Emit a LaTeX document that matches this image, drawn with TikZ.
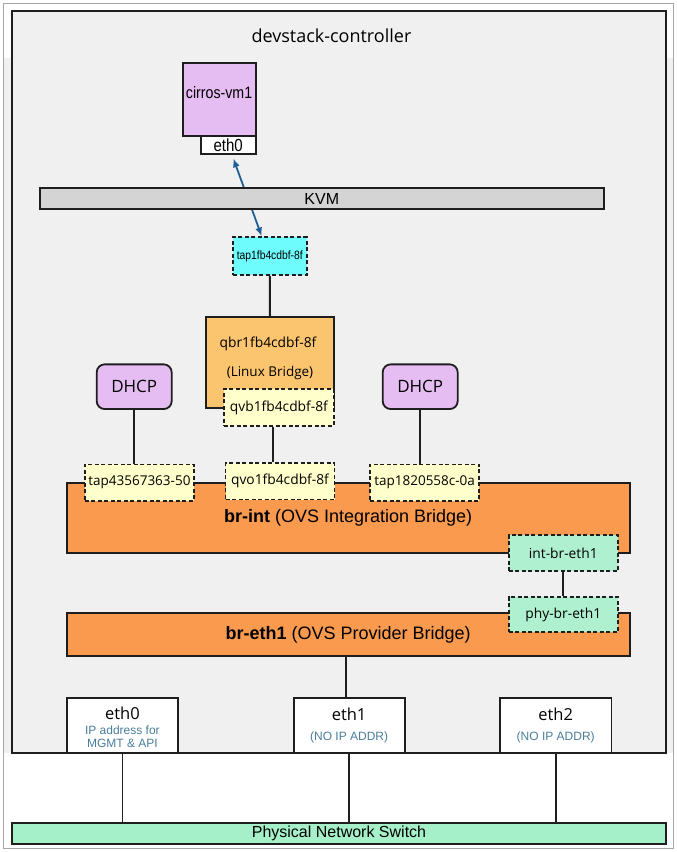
\documentclass[tikz,border=0pt]{standalone}
\usepackage{fontspec}
\setmainfont{Open Sans}
\newfontfamily\arialfont{Liberation Sans}
\newfontfamily\narrowfont[FakeStretch=0.86]{Liberation Sans}
\usepackage{tikz}
\usetikzlibrary{arrows,arrows.meta,calc,positioning,shapes}

\definecolor{bggray}{HTML}{F0F0F0}
\definecolor{vmviolet}{HTML}{E6BDF2}
\definecolor{kvmgray}{HTML}{D4D4D4}
\definecolor{tapcyan}{HTML}{6EFCFC}
\definecolor{qbrorange}{HTML}{FBC56F}
\definecolor{portyellow}{HTML}{FFFFCC}
\definecolor{ovsorange}{HTML}{FA9A4F}
\definecolor{patchgreen}{HTML}{AEF0D0}
\definecolor{switchgreen}{HTML}{A6F0C9}
\definecolor{arrowblue}{HTML}{1F5E94}
\definecolor{iptext}{HTML}{4A7D9C}
\definecolor{linecol}{HTML}{1E1E1E}

\begin{document}
\begin{tikzpicture}[x=1pt,y=-1pt,every node/.style={draw=linecol,line width=1.8pt,inner sep=0pt},
	port/.style={dash pattern=on 4pt off 2.5pt,minimum width=109pt,minimum height=36.5pt,font=\fontsize{13.8}{16}\selectfont},
	bridge/.style={fill=ovsorange,minimum width=563pt,font=\arialfont\fontsize{18}{21}\selectfont},
	host/.style={fill=white,minimum width=111pt,minimum height=54.4pt},
	hostname/.style={draw=none,font=\fontsize{16.5}{19}\selectfont},
	hostip/.style={draw=none,text=iptext,font=\arialfont\fontsize{12}{14}\selectfont},
	dhcp/.style={fill=vmviolet,rounded corners=8pt,minimum width=75pt,minimum height=44.7pt,font=\fontsize{17}{20}\selectfont},
	link/.style={draw=linecol,line width=2pt},
	txt/.style={draw=none}]
	\useasboundingbox (0,0) rectangle (677,852);
	\fill[white] (0,0) rectangle (677,852);
	\fill[bggray] (3.5,58) rectangle (673.5,752.7);
	\draw[gray!70,line width=0.8pt] (3.5,3.5) rectangle (673.5,848.5);
	\draw[linecol,fill=bggray,line width=2pt] (12,11) rectangle (666,752.7);

	\node[txt,font=\fontsize{18}{21}\selectfont] (ctrltitle) at (331.5,36) {devstack-controller};

	\node at (219.1,99.4) [fill=vmviolet,minimum width=73pt,minimum height=73.3pt] (vm) {};
	\node[txt,font=\narrowfont\fontsize{16.5}{19}\selectfont] (vmlabel) at (219.1,93) {cirros-vm1};
	\node at (228.2,145.2) [fill=white,minimum width=54.8pt,minimum height=18.3pt,font=\narrowfont\fontsize{17.5}{19}\selectfont] (vmeth) {eth0};
	\node at (269.8,256.2) [port,fill=tapcyan,minimum width=73.6pt,minimum height=37.7pt,font=\narrowfont\fontsize{12}{14}\selectfont] (tap) {tap1fb4cdbf-8f};
	\draw[{Latex[length=9pt,width=7pt]}-{Latex[length=9pt,width=7pt]},arrowblue,line width=1.8pt] ([xshift=5pt,yshift=-3pt]vmeth.south) -- ([xshift=-8pt]tap.north);
	\node at (321.8,198.8) [fill=kvmgray,minimum width=563.6pt,minimum height=21pt,font=\arialfont\fontsize{16}{19}\selectfont] (kvm) {KVM};

	\node at (270,362.2) [fill=qbrorange,minimum width=127.7pt,minimum height=91pt] (qbr) {};
	\node[txt,font=\fontsize{13.8}{16}\selectfont] (qbrname) at (268,343.5) {qbr1fb4cdbf-8f};
	\node[txt,font=\fontsize{13.5}{16}\selectfont] (qbrlabel) at (270,372.5) {(Linux Bridge)};
	\node at (278.9,407.4) [port,fill=portyellow,minimum width=109.9pt] (qvb) {qvb1fb4cdbf-8f};

	\node at (134.2,386.7) [dhcp] (dhcpa) {DHCP};
	\node at (420.2,386.7) [dhcp] (dhcpb) {DHCP};

	\node at (348.2,517.7) [bridge,minimum height=70pt] (brint) {\textbf{br-int} (OVS Integration Bridge)};
	\node at (139.4,482.7) [port,fill=portyellow,font=\fontsize{13.5}{16}\selectfont] (tapa) {tap43567363-50};
	\node at (280,481.3) [port,fill=portyellow] (qvo) {qvo1fb4cdbf-8f};
	\node at (424.6,482.7) [port,fill=portyellow,font=\fontsize{13.5}{16}\selectfont] (tapb) {tap1820558c-0a};

	\node at (348.2,634.7) [bridge,minimum height=42.7pt] (breth) {\textbf{br-eth1} (OVS Provider Bridge)};
	\node at (563.3,553) [port,fill=patchgreen,minimum height=36pt] (intbr) {int-br-eth1};
	\node at (563.3,614.5) [port,fill=patchgreen,minimum height=35.6pt] (phybr) {phy-br-eth1};

	\node at (122.4,725.5) [host] (hosta) {};
	\node at (349.1,725.5) [host] (hostb) {};
	\node at (555.7,725.5) [host,minimum width=111.4pt] (hostc) {};
	\node[hostname] (hostaname) at (122.4,713) {eth0};
	\node[hostip] (hostaip) at (122.4,730) {IP address for};
	\node[hostip] (hostause) at (122.4,743.5) {MGMT \& API};
	\node[hostname] (hostbname) at (349.1,714) {eth1};
	\node[hostip] (hostbip) at (349.1,737) {(NO IP ADDR)};
	\node[hostname] (hostcname) at (555.7,714) {eth2};
	\node[hostip] (hostcip) at (555.7,737) {(NO IP ADDR)};

	\node at (339,833.5) [fill=switchgreen,minimum width=654pt,minimum height=20.4pt,font=\arialfont\fontsize{16}{19}\selectfont] (switch) {Physical Network Switch};

	\draw[link] (tap.south) -- (qbr.north);
	\draw[link] ([xshift=-5.5pt]qvb.south) -- ([xshift=-5.5pt]qvb.south |- qvo.north);
	\draw[link] (dhcpa.south) -- (dhcpa.south |- tapa.north);
	\draw[link] (dhcpb.south) -- (dhcpb.south |- tapb.north);
	\draw[link] (intbr.south) -- (phybr.north);
	\draw[link] ([xshift=-3.5pt]hostb.north |- breth.south) -- ([xshift=-3.5pt]hostb.north);
	\draw[link,line width=1.6pt] (hosta.south) -- (hosta.south |- switch.north);
	\draw[link,line width=1.6pt] (hostb.south) -- (hostb.south |- switch.north);
	\draw[link,line width=1.6pt] (hostc.south) -- (hostc.south |- switch.north);
\end{tikzpicture}
\end{document}
